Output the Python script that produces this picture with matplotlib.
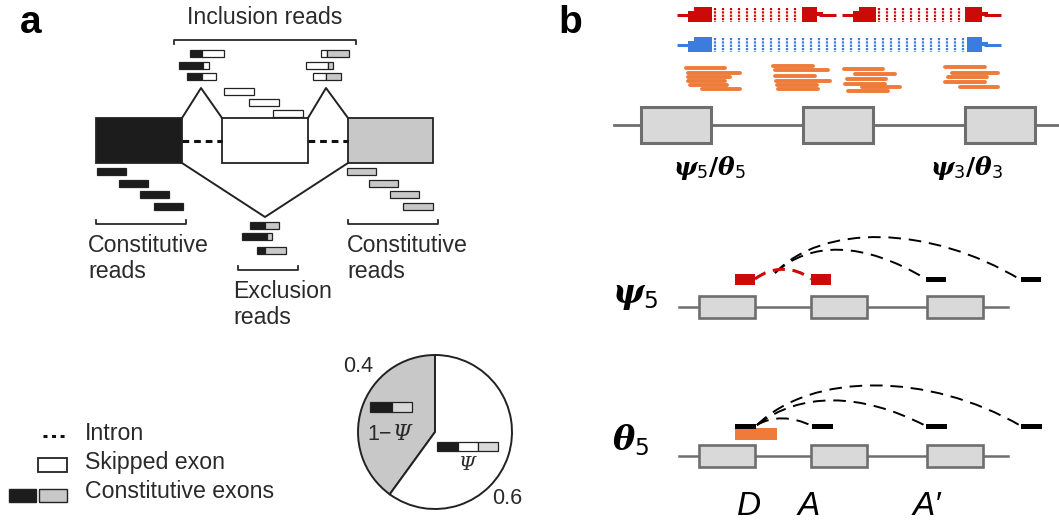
import matplotlib.pyplot as plt
from matplotlib.patches import Rectangle, Wedge, PathPatch
from matplotlib.path import Path

# ---- panel a : read layout (x start, y top, [(width, fill), ...]) ----
K, W, G = '#1c1c1c', 'white', '#c8c8c8'
read_h = 7
incl_left = [(190, 50, [(12, K), (22, W)]), (179, 62, [(24, K), (6, W)]), (187, 73, [(15, K), (14, W)])]
incl_right = [(321, 50, [(6, W), (22, G)]), (306, 62, [(22, W), (5, G)]), (313, 73, [(13, W), (15, G)])]
skip_reads = [(224, 88, [(30, W)]), (249, 99, [(30, W)]), (273, 110, [(30, W)])]
const_left = [(97, 168, [(29, K)]), (119, 180, [(29, K)]), (140, 191, [(29, K)]), (154, 203, [(29, K)])]
const_right = [(347, 168, [(29, G)]), (369, 180, [(29, G)]), (390, 191, [(29, G)]), (403, 203, [(30, G)])]
excl_reads = [(250, 222, [(15, K), (14, G)]), (242, 233, [(25, K), (5, G)]), (257, 247, [(8, K), (21, G)])]

# exons of panel a: (x0, x1, fill)
exons_a = [(96, 182, K), (222, 308, W), (348, 433, G)]
exon_top, exon_bot = 118, 163

# pie
psi_values = [0.4, 0.6]
psi_labels = ['0.4', '0.6']

# ---- panel b ----
orange_groups = [
    [(686, 725, 68), (688, 740, 73), (688, 730, 77), (688, 725, 81), (690, 727, 85), (702, 740, 89)],
    [(773, 813, 66), (775, 828, 70), (775, 815, 76), (776, 830, 81), (777, 817, 85), (778, 818, 89)],
    [(844, 883, 69), (855, 895, 74), (847, 886, 79), (845, 885, 84), (862, 900, 87), (848, 888, 91)],
    [(945, 985, 67), (952, 998, 73), (948, 987, 77), (945, 985, 82), (960, 998, 87)],
]
exons_b_top = [641, 803, 965]
exons_b = [699, 811, 927]

RED, BLUE, ORANGE = '#cc0a0a', '#3b7ddd', '#ee7b3a'
LINE_G, FILL_G = '#6e6e6e', '#d9d9d9'
TXT = '#2a2a2a'

fig = plt.figure(figsize=(10.59, 5.24), dpi=100)
ax = fig.add_axes([0, 0, 1, 1])
ax.set_xlim(0, 1059)
ax.set_ylim(524, 0)
ax.axis('off')

sans = ['Liberation Sans', 'DejaVu Sans']
fs = 16.7


def draw_read(x, y, segs, h=read_h):
    for w, c in segs:
        ax.add_patch(Rectangle((x, y), w, h, facecolor=c, edgecolor='#222222', lw=0.9))
        x += w


def bracket(x0, x1, y, tick):
    ax.plot([x0, x0, x1, x1], [y + tick, y, y, y + tick], color=TXT, lw=1.3)


# panel labels
ax.text(20, 33, 'a', fontsize=28, fontweight='bold', family=sans, va='baseline')
ax.text(558, 33, 'b', fontsize=28, fontweight='bold', family=sans, va='baseline')

# ---- panel a ----
for x0, x1, c in exons_a:
    ax.add_patch(Rectangle((x0, exon_top), x1 - x0, exon_bot - exon_top, facecolor=c, edgecolor='#222222', lw=1.3))
mid = (exon_top + exon_bot) / 2
ax.plot([182, 222], [mid, mid], color='#111111', lw=2.2, dashes=(2.2, 1.6))
ax.plot([308, 348], [mid, mid], color='#111111', lw=2.2, dashes=(2.2, 1.6))
ax.plot([182, 201, 222], [exon_top, 88, exon_top], color='#222222', lw=1.4)
ax.plot([308, 326, 348], [exon_top, 88, exon_top], color='#222222', lw=1.4)
ax.plot([182, 265, 348], [exon_bot, 217, exon_bot], color='#222222', lw=1.4)

for group in (incl_left, incl_right, skip_reads, const_left, const_right, excl_reads):
    for x, y, segs in group:
        draw_read(x, y, segs)

bracket(174, 356, 40, 4)
bracket(96, 186, 224, -4)
bracket(348, 438, 224, -4)
bracket(238, 298, 270, -4)

ax.text(265, 18, 'Inclusion reads', fontsize=fs, family=sans, color=TXT, ha='center', va='center')
ax.text(88, 245, 'Constitutive', fontsize=fs, family=sans, color=TXT, va='center')
ax.text(88, 272, 'reads', fontsize=fs, family=sans, color=TXT, va='center')
ax.text(347, 245, 'Constitutive', fontsize=fs, family=sans, color=TXT, va='center')
ax.text(347, 272, 'reads', fontsize=fs, family=sans, color=TXT, va='center')
ax.text(233, 292, 'Exclusion', fontsize=fs, family=sans, color=TXT, va='center')
ax.text(233, 318, 'reads', fontsize=fs, family=sans, color=TXT, va='center')

# legend
ax.plot([43, 65], [436, 436], color='#111111', lw=2.2, dashes=(1.3, 1.5))
ax.add_patch(Rectangle((38, 458), 29, 14, facecolor=W, edgecolor='#222222', lw=1.3))
ax.add_patch(Rectangle((9, 489), 27, 13, facecolor=K, edgecolor='#222222', lw=1.0))
ax.add_patch(Rectangle((39, 489), 28, 13, facecolor=G, edgecolor='#222222', lw=1.0))
ax.text(85, 433, 'Intron', fontsize=fs, family=sans, color=TXT, va='center')
ax.text(85, 463, 'Skipped exon', fontsize=fs, family=sans, color=TXT, va='center')
ax.text(85, 492, 'Constitutive exons', fontsize=fs, family=sans, color=TXT, va='center')

# pie (y axis is inverted, so angles run clockwise on screen)
cx, cy, r = 435, 432, 77
start = 270
a_excl = start - psi_values[0] * 360
ax.add_patch(Wedge((cx, cy), r, a_excl, start, facecolor=G, edgecolor='#222222', lw=1.4))
ax.add_patch(Wedge((cx, cy), r, start, a_excl + 360, facecolor=W, edgecolor='#222222', lw=1.4))
ax.text(358, 367, psi_labels[0], fontsize=15.5, family=sans, color=TXT, ha='center', va='center')
ax.text(507, 499, psi_labels[1], fontsize=15.5, family=sans, color=TXT, ha='center', va='center')
draw_read(370, 402, [(22, K), (20, '#d8d8d8')], h=10)
draw_read(437, 442, [(21, K), (20, W), (20, '#d8d8d8')], h=9)
ax.text(392, 434, '1\u2212', fontsize=15.5, family=sans, color=TXT, ha='right', va='center')
ax.text(393, 434, '\u03a8', fontsize=15.5, family='DejaVu Serif', style='italic', color=TXT, ha='left', va='center')
ax.text(467, 465, '\u03a8', fontsize=14, family='DejaVu Serif', style='italic', color=TXT, ha='center', va='center')


# ---- panel b : paired reads ----
def paired(x0, b0, b1, b2, b3, x1, y, color, tick_step=8):
    ax.plot([x0, b0 + 4], [y, y], color=color, lw=2.2, solid_capstyle='butt')
    ax.add_patch(Rectangle((b0, y - 4), b1 - b0, 11, facecolor=color, edgecolor='none'))
    ax.add_patch(Rectangle((b0 + 6, y - 8), b1 - b0 - 6, 5, facecolor=color, edgecolor='none'))
    ax.add_patch(Rectangle((b2, y - 8), b3 - b2 - 6, 15, facecolor=color, edgecolor='none'))
    ax.add_patch(Rectangle((b3 - 6, y - 3), 6, 4, facecolor=color, edgecolor='none'))
    ax.plot([b3 - 4, x1], [y, y], color=color, lw=2.2, solid_capstyle='butt')
    xs = list(range(int(b1) + 3, int(b2) - 1, tick_step))
    ax.vlines(xs, y - 7, y + 7, color=color, lw=1.6, linestyles=(0, (1.0, 0.5)))


paired(677, 688, 712, 802, 823, 836, 15, RED)
paired(842, 853, 876, 965, 988, 1001, 15, RED)
paired(677, 688, 712, 967, 988, 1001, 45, BLUE, tick_step=8)

for grp in orange_groups:
    for x0, x1, y in grp:
        ax.plot([x0, x1], [y, y], color=ORANGE, lw=2.8, solid_capstyle='round')

ax.plot([614, 1058], [125, 125], color=LINE_G, lw=2.0, zorder=1)
for x in exons_b_top:
    ax.add_patch(Rectangle((x, 107), 70, 36, facecolor=FILL_G, edgecolor=LINE_G, lw=2.2, zorder=2))

mt = dict(math_fontfamily='dejavuserif', color='black', ha='center', va='center')
ax.text(710, 168, r'$\mathbfit{\psi}_{\mathsf{5}}\mathbf{/}\mathbfit{\theta}_{\mathsf{5}}$', fontsize=18, **mt)
ax.text(967, 168, r'$\mathbfit{\psi}_{\mathsf{3}}\mathbf{/}\mathbfit{\theta}_{\mathsf{3}}$', fontsize=18, **mt)


def gene(y, h=22):
    ax.plot([679, 1008], [y, y], color=LINE_G, lw=1.8, zorder=1)
    for x in exons_b:
        ax.add_patch(Rectangle((x, y - h / 2), 56, h, facecolor=FILL_G, edgecolor=LINE_G, lw=1.9, zorder=2))


def arc(p0, c1, c2, p3, color='black', lw=1.4, dashes=(6.5, 4)):
    path = Path([p0, c1, c2, p3], [Path.MOVETO, Path.CURVE4, Path.CURVE4, Path.CURVE4])
    ax.add_patch(PathPatch(path, facecolor='none', edgecolor=color, lw=lw, linestyle=(0, dashes)))


# psi5
gene(307)
ax.text(612, 296, r'$\mathbfit{\psi}_{\mathsf{5}}$', fontsize=24, math_fontfamily='dejavuserif', va='center')
arc((775, 273), (822, 224), (928, 224), (1021, 280))
arc((775, 273), (810, 241), (863, 241), (926, 279))
arc((755, 279), (772, 266), (794, 266), (811, 279), color=RED, lw=2.2, dashes=(4, 2.5))
for x0 in (735, 811):
    ax.add_patch(Rectangle((x0, 274), 20, 11, facecolor=RED, edgecolor='none', zorder=3))
for x0 in (926, 1021):
    ax.add_patch(Rectangle((x0, 277), 20, 5, facecolor='black', edgecolor='none', zorder=3))

# theta5
gene(456)
ax.text(612, 440, r'$\mathbfit{\theta}_{\mathsf{5}}$', fontsize=24, math_fontfamily='dejavuserif', va='center')
arc((757, 425), (812, 372), (928, 372), (1021, 426))
arc((757, 425), (800, 392), (860, 392), (926, 426))
arc((757, 425), (772, 416), (792, 416), (812, 426))
ax.add_patch(Rectangle((735, 428), 42, 12, facecolor=ORANGE, edgecolor='none', zorder=3))
for x0 in (735, 812, 926, 1021):
    ax.add_patch(Rectangle((x0, 424), 21, 5, facecolor='black', edgecolor='none', zorder=3))

it = dict(fontsize=24, family=sans, style='italic', color='black', ha='center', va='baseline')
ax.text(749, 515, 'D', **it)
ax.text(809, 515, 'A', **it)
ax.text(927, 515, 'A\u2032', **it)

fig.savefig('out.png', dpi=100)
